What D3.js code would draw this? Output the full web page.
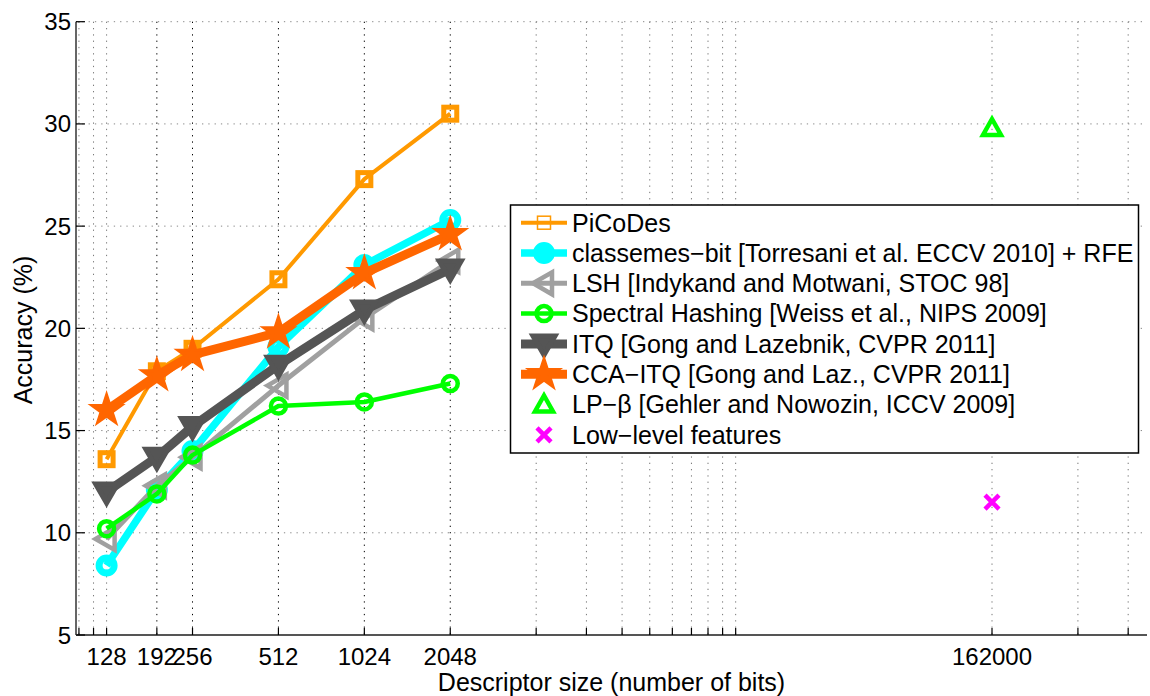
<html>
<meta charset="utf-8"></meta>
<script src="https://cdn.jsdelivr.net/npm/d3@7/dist/d3.min.js"></script>
<style>
body{margin:0;background:#fff;}
text{font-family:"Liberation Sans",Arial,Helvetica,sans-serif;fill:#000;}
</style>
<body>
<svg id="chart" width="1150" height="696"></svg>
<script>
// descriptor sizes (bits) shared by the line series
var bits = [128, 192, 256, 512, 1024, 2048];
var picodes    = [13.6, 17.9, 19.0, 22.4, 27.3, 30.5];
var classemes  = [8.4, 12.1, 14.0, 19.1, 23.1, 25.3];
var lsh        = [9.7, 12.3, 13.7, 17.2, 20.5, 23.3];
var spectral   = [10.2, 11.9, 13.8, 16.2, 16.4, 17.3];
var itq        = [12.0, 13.7, 15.2, 18.2, 20.9, 22.9];
var ccaitq     = [16.0, 17.7, 18.7, 19.8, 22.7, 24.6];
// single points
var lpBeta = [{x:162000, y:29.8}];
var lowLevel = [{x:162000, y:11.5}];

var xTicks = [102.4, 115.2, 128, 192, 256, 512, 1024, 2048, 4096, 6144, 8192, 10240, 12288, 14336, 16384, 18432, 20480, 162000, 324000, 486000];
var xLabels = [128, 192, 256, 512, 1024, 2048, 162000];
var yTicks = [5, 10, 15, 20, 25, 30, 35];

var legendNames = [
  "PiCoDes",
  "classemes\u2212bit [Torresani et al. ECCV 2010] + RFE",
  "LSH [Indykand and Motwani, STOC 98]",
  "Spectral Hashing [Weiss et al., NIPS 2009]",
  "ITQ [Gong and Lazebnik, CVPR 2011]",
  "CCA\u2212ITQ [Gong and Laz., CVPR 2011]",
  "LP\u2212\u03b2 [Gehler and Nowozin, ICCV 2009]",
  "Low\u2212level features"
];

var L = 76, R = 1147, T = 21.7, B = 635;
var x = d3.scaleLog().domain([100, 565700]).range([L, R]);
var y = d3.scaleLinear().domain([5, 35]).range([B, T]);

var svg = d3.select("#chart");
var g = svg.append("g");

// grid
var majorV = [192, 256, 512, 1024, 2048];
g.selectAll(".vgrid").data(xTicks).enter().append("line")
  .attr("x1", function(d){return x(d);}).attr("x2", function(d){return x(d);})
  .attr("y1", T).attr("y2", B)
  .attr("stroke", function(d){return majorV.indexOf(d) >= 0 ? "#000" : "#777";})
  .attr("stroke-width", 1).attr("stroke-dasharray", "1.3,5");
g.selectAll(".hgrid").data(yTicks.slice(1)).enter().append("line")
  .attr("x1", L).attr("x2", R)
  .attr("y1", function(d){return y(d);}).attr("y2", function(d){return y(d);})
  .attr("stroke", "#888").attr("stroke-width", 1).attr("stroke-dasharray", "1.3,5");

// axes lines and ticks
g.append("line").attr("x1", L).attr("x2", L).attr("y1", T).attr("y2", B).attr("stroke", "#333").attr("stroke-width", 1.5);
g.append("line").attr("x1", L).attr("x2", R).attr("y1", B).attr("y2", B).attr("stroke", "#555").attr("stroke-width", 2);
g.selectAll(".xt").data(xTicks).enter().append("line")
  .attr("x1", function(d){return x(d);}).attr("x2", function(d){return x(d);})
  .attr("y1", B).attr("y2", B - 7).attr("stroke", "#000").attr("stroke-width", 1.2);
g.selectAll(".yt").data(yTicks).enter().append("line")
  .attr("x1", L).attr("x2", L + 9)
  .attr("y1", function(d){return y(d);}).attr("y2", function(d){return y(d);})
  .attr("stroke", "#000").attr("stroke-width", 1.2);

g.selectAll(".xl").data(xLabels).enter().append("text")
  .attr("x", function(d){return x(d);}).attr("y", 665)
  .attr("text-anchor", "middle").style("font-size", "24px").text(function(d){return d;});
g.selectAll(".yl").data(yTicks).enter().append("text")
  .attr("x", 71).attr("y", function(d){return y(d) + 8.5;})
  .attr("text-anchor", "end").style("font-size", "24px").text(function(d){return d;});

g.append("text").attr("x", (L + R) / 2).attr("y", 691).attr("text-anchor", "middle")
  .style("font-size", "25px").text("Descriptor size (number of bits)");
g.append("text").attr("transform", "translate(32,330) rotate(-90)").attr("text-anchor", "middle")
  .style("font-size", "25px").text("Accuracy (%)");

// marker painters
function mSquare(sel, c, sw, s){ sel.append("rect").attr("x", -s/2).attr("y", -s/2).attr("width", s).attr("height", s).attr("fill", "none").attr("stroke", c).attr("stroke-width", sw); }
function mCircle(sel, c, sw, r, fill){ sel.append("circle").attr("r", r).attr("fill", fill || "none").attr("stroke", c).attr("stroke-width", sw); }
function mTriLeft(sel, c, sw){ sel.append("path").attr("d", "M-11,0L8,-11L8,11Z").attr("fill", "none").attr("stroke", c).attr("stroke-width", sw); }
function mTriDown(sel, c, sw){ sel.append("path").attr("d", "M-11,-8L11,-8L0,11Z").attr("fill", c).attr("stroke", c).attr("stroke-width", sw); }
function mTriUp(sel, c, sw){ sel.append("path").attr("d", "M-9,7L9,7L0,-9Z").attr("fill", "none").attr("stroke", c).attr("stroke-width", sw); }
function mStar(sel, c, sw, sz){ sel.append("path").attr("d", d3.symbol().type(d3.symbolStar).size(sz)()).attr("fill", c).attr("stroke", c).attr("stroke-width", sw).attr("stroke-miterlimit", 10); }
function mX(sel, c, sw){ sel.append("path").attr("d", "M-7,-7L7,7M-7,7L7,-7").attr("stroke", c).attr("stroke-width", sw); }

var series = [
  {vals: picodes,   color: "#FF9900", lw: 4,   mk: function(s){ mSquare(s, "#FF9900", 5, 13); }, lg: function(s){ mSquare(s, "#FF9900", 1.5, 13); }},
  {vals: classemes, color: "#00FFFF", lw: 7.5, mk: function(s){ mCircle(s, "#00FFFF", 7, 7.5); }, lg: function(s){ mCircle(s, "#00FFFF", 7, 7.5, "#00FFFF"); }},
  {vals: lsh,       color: "#A0A0A0", lw: 5,   mk: function(s){ mTriLeft(s, "#A0A0A0", 4.5); }, lg: function(s){ mTriLeft(s, "#A0A0A0", 4.5); }},
  {vals: spectral,  color: "#00FF00", lw: 4.5, mk: function(s){ mCircle(s, "#00FF00", 4.5, 7.5); }, lg: function(s){ mCircle(s, "#00FF00", 4.5, 7.5); }},
  {vals: itq,       color: "#555555", lw: 9,   mk: function(s){ mTriDown(s, "#555555", 5); }, lg: function(s){ mTriDown(s, "#555555", 5); }},
  {vals: ccaitq,    color: "#FF6600", lw: 9,   mk: function(s){ mStar(s, "#FF6600", 3, 260); }, lg: function(s){ mStar(s, "#FF6600", 3, 260); }}
];

var line = d3.line().x(function(d){return x(d[0]);}).y(function(d){return y(d[1]);});
series.forEach(function(sr){
  var pts = bits.map(function(b, i){ return [b, sr.vals[i]]; });
  var sg = g.append("g");
  sg.append("path").attr("d", line(pts)).attr("fill", "none").attr("stroke", sr.color)
    .attr("stroke-width", sr.lw).attr("stroke-linejoin", "round");
  pts.forEach(function(p){
    var m = sg.append("g").attr("transform", "translate(" + x(p[0]) + "," + y(p[1]) + ")");
    sr.mk(m);
  });
});
lpBeta.forEach(function(p){
  mTriUp(g.append("g").attr("transform", "translate(" + x(p.x) + "," + y(p.y) + ")"), "#00FF00", 4.5);
});
lowLevel.forEach(function(p){
  mX(g.append("g").attr("transform", "translate(" + x(p.x) + "," + y(p.y) + ")"), "#FF00FF", 4.5);
});

// legend
var lg = g.append("g");
lg.append("rect").attr("x", 510.5).attr("y", 205).attr("width", 628).attr("height", 248)
  .attr("fill", "#fff").attr("stroke", "#000").attr("stroke-width", 1.5);
legendNames.forEach(function(name, i){
  var ly = 222.7 + i * 30.3;
  var row = lg.append("g").attr("transform", "translate(0," + ly + ")");
  if (i < series.length) {
    row.append("line").attr("x1", 521).attr("x2", 567).attr("y1", 0).attr("y2", 0)
      .attr("stroke", series[i].color).attr("stroke-width", series[i].lw);
    series[i].lg(row.append("g").attr("transform", "translate(544,0)"));
  } else if (i == 6) {
    mTriUp(row.append("g").attr("transform", "translate(544,0)"), "#00FF00", 4.5);
  } else {
    mX(row.append("g").attr("transform", "translate(544,0)"), "#FF00FF", 4.5);
  }
  row.append("text").attr("x", 572).attr("y", 8.8).style("font-size", "25px").text(name);
});
</script>
</body>
</html>
